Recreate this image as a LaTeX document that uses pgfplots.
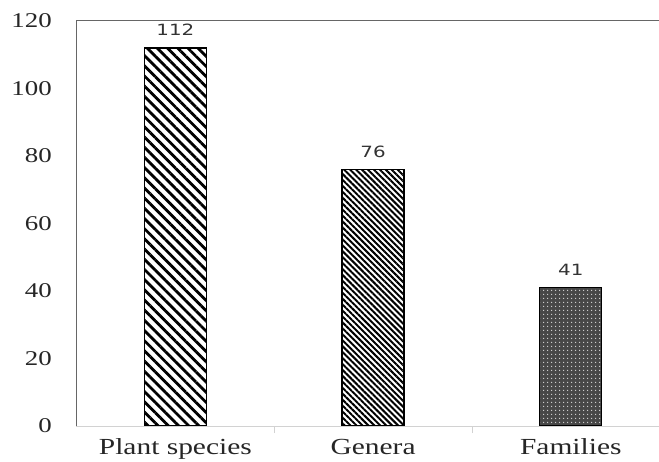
\documentclass[border=0pt]{standalone}
\usepackage{fontspec}
\setmainfont{Liberation Serif}[FakeStretch=1.28]
\newfontfamily\valfont{DejaVu Sans}[FakeStretch=1.28]
\usepackage{pgfplots}
\pgfplotsset{compat=1.18}
\usetikzlibrary{patterns.meta}
\begin{document}
\begin{tikzpicture}
\useasboundingbox (-76.5pt,-35pt) rectangle (582.5pt,426pt);
\begin{axis}[
  at={(0pt,0pt)}, anchor=south west,
  scale only axis, width=582.5pt, height=405pt,
  xmin=-0.5, xmax=2.446, ymin=0, ymax=120,
  ybar, bar width=62pt,
  axis line style={draw=none},
  xtick={0,1,2}, xticklabels={Plant species, Genera, Families},
  ytick={0,20,...,120},
  xtick pos=bottom, ytick pos=left,
  major tick length=0pt,
  tick style={draw=none},
  /pgf/number format/assume math mode=true,
  yticklabel style={anchor=east, inner sep=0pt, xshift=-24.5pt, font=\fontsize{21}{21}\selectfont, text=black!85},
  xticklabel style={anchor=base, inner sep=0pt, yshift=-28.5pt, font=\fontsize{23}{23}\selectfont, text=black!85},
  extra x ticks={0.5,1.5}, extra x tick labels={},
  extra x tick style={xtick pos=bottom, tick align=outside, major tick length=7pt, tick style={draw=gray!35, line width=0.8pt}},
  nodes near coords,
  every node near coord/.append style={anchor=base, inner sep=0pt, yshift=12pt, font=\valfont\fontsize{15.5}{15.5}\selectfont, text=black!80},
  clip=false,
]
\addplot[bar shift=0pt, draw=black, line width=1.3pt, fill=white,
  postaction={pattern={Lines[angle=-45, distance=7.2pt, line width=2.8pt]}, pattern color=black}]
  coordinates {(0,112)};
\addplot[bar shift=0pt, draw=black, line width=1.3pt, fill=white,
  postaction={pattern={Lines[angle=-45, distance=4.2pt, line width=2pt]}, pattern color=black}]
  coordinates {(1,76)};
\addplot[bar shift=0pt, draw=black, line width=1.3pt, fill=black!72,
  postaction={pattern={Dots[distance=4pt, radius=0.8pt]}, pattern color=white!85!black}]
  coordinates {(2,41)};
\draw[gray!35, line width=1pt] (rel axis cs:0,0) -- (rel axis cs:1,0);
\draw[black!60, line width=1pt] (rel axis cs:0,0) -- (rel axis cs:0,1) -- (rel axis cs:1,1);
\end{axis}
\end{tikzpicture}
\end{document}
